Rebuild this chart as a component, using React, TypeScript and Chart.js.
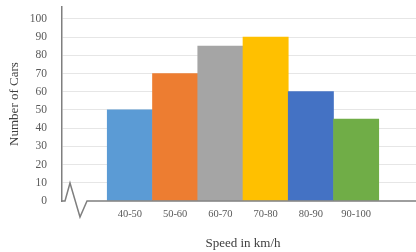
import React, { useEffect, useRef } from "react";
import { Chart, registerables } from "chart.js";

Chart.register(...registerables);

const categories = ["", "40-50", "50-60", "60-70", "70-80", "80-90", "90-100", ""];
const carCounts = [null, 50, 70, 85, 90, 60, 45, null];
const barColors = ["#5B9BD5", "#5B9BD5", "#ED7D31", "#A5A5A5", "#FFC000", "#4472C4", "#70AD47", "#70AD47"];
const yTickStep = 10;
const yMin = 0;
const yMax = 106.5;

const FONT = "'Liberation Serif', 'DejaVu Serif', serif";

const breakPlugin = {
  id: "axisBreak",
  afterDraw(chart: any) {
    const ctx = chart.ctx;
    const y = chart.scales.y;
    const y0 = y.getPixelForValue(0);
    const left = chart.chartArea.left;
    const right = chart.chartArea.right;
    ctx.save();
    ctx.strokeStyle = "#7f7f7f";
    ctx.lineWidth = 1.5;
    ctx.lineJoin = "miter";
    ctx.beginPath();
    ctx.moveTo(left - 1, y0);
    ctx.lineTo(left + 3, y0);
    ctx.lineTo(left + 8, y0 - 18);
    ctx.lineTo(left + 18, y0 + 16);
    ctx.lineTo(left + 25, y0);
    ctx.lineTo(right, y0);
    ctx.stroke();
    ctx.restore();
  },
};

export default function App() {
  const ref = useRef<HTMLCanvasElement>(null);
  useEffect(() => {
    const canvas = ref.current!;
    const chart = new Chart(canvas, {
      type: "bar",
      data: {
        labels: categories,
        datasets: [
          {
            data: carCounts as any,
            backgroundColor: barColors,
            borderWidth: 0,
            barPercentage: 1,
            categoryPercentage: 1,
          },
        ],
      },
      options: {
        responsive: false,
        animation: false,
        events: [],
        layout: { padding: { top: 7, left: 0, right: 0, bottom: 0 } },
        plugins: { legend: { display: false }, tooltip: { enabled: false } },
        scales: {
          x: {
            grid: { display: false, drawTicks: false },
            border: { display: false },
            ticks: {
              color: "#595959",
              font: { family: FONT, size: 10.5 },
              padding: 7,
              maxRotation: 0,
              autoSkip: false,
            },
            title: {
              display: true,
              text: "Speed in km/h",
              color: "#404040",
              font: { family: FONT, size: 13 },
              padding: { top: 0, bottom: 1 },
            },
            afterFit(scale: any) {
              scale.height = 51;
              scale.paddingLeft = 0;
              scale.paddingRight = 0;
            },
          },
          y: {
            min: yMin,
            max: yMax,
            afterBuildTicks(scale: any) {
              scale.ticks = scale.ticks.filter((t: any) => t.value % yTickStep === 0);
            },
            ticks: {
              stepSize: yTickStep,
              includeBounds: false,
              color: "#595959",
              font: { family: FONT, size: 11.5 },
              padding: 15,
            },
            grid: {
              drawTicks: false,
              color: (c: any) => (c.tick && c.tick.value === 0 ? "rgba(0,0,0,0)" : "#e6e6e6"),
              lineWidth: 1,
            },
            border: { display: true, color: "#7f7f7f", width: 1.5 },
            title: {
              display: true,
              text: "Number of Cars",
              color: "#404040",
              font: { family: FONT, size: 13 },
              padding: { top: 7, bottom: 0 },
            },
            afterFit(scale: any) {
              scale.width = 62;
              scale.paddingTop = 0;
              scale.paddingBottom = 0;
            },
          },
        },
      },
      plugins: [breakPlugin],
    });
    return () => chart.destroy();
  }, []);
  return (
    <div
      style={{
        position: "fixed",
        left: 0,
        top: 0,
        width: 416,
        height: 252,
        overflow: "hidden",
        background: "#fff",
      }}
    >
      <canvas ref={ref} width={424} height={252} style={{ display: "block" }} />
    </div>
  );
}
